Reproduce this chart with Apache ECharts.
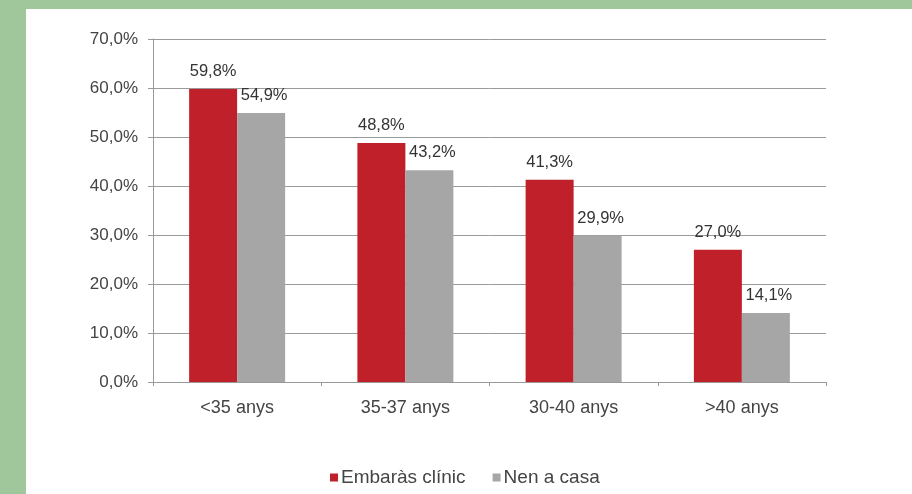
<!DOCTYPE html>
<html>
<head>
<meta charset="utf-8">
<script src="https://cdn.jsdelivr.net/npm/echarts@6/dist/echarts.min.js"></script>
<style>
html,body{margin:0;padding:0;background:#9fc79b;}
#c{width:912px;height:494px;}
</style>
</head>
<body>
<div id="c"></div>
<script>
const categories = ['<35 anys', '35-37 anys', '30-40 anys', '>40 anys'];
const embarasClinic = [59.8, 48.8, 41.3, 27.0];
const nenACasa = [54.9, 43.2, 29.9, 14.1];
const seriesNames = ['Embaràs clínic', 'Nen a casa'];

const fmt = v => v.toFixed(1).replace('.', ',') + '%';
const font = 'Liberation Sans, Arial, sans-serif';

const chart = echarts.init(document.getElementById('c'));
chart.setOption({
  backgroundColor: 'transparent',
  animation: false,
  textStyle: { fontFamily: font },
  graphic: [{
    type: 'rect', z: -10, silent: true,
    shape: { x: 26, y: 9, width: 886, height: 485 },
    style: { fill: '#ffffff' }
  }],
  grid: { left: 153, right: 86, top: 39, bottom: 112 },
  legend: {
    bottom: 2, left: 325,
    itemWidth: 8, itemHeight: 8, itemGap: 27,
    icon: 'rect',
    textStyle: { fontSize: 19, color: '#444', fontFamily: font, padding: [0, 0, 0, -2] },
    data: seriesNames
  },
  xAxis: {
    type: 'category',
    data: categories,
    axisLine: { lineStyle: { color: '#999', width: 1 } },
    axisTick: { show: true, length: 4, lineStyle: { color: '#999' } },
    axisLabel: { color: '#444', fontSize: 18, margin: 17, fontFamily: font }
  },
  yAxis: {
    type: 'value',
    min: 0, max: 70, interval: 10,
    axisLine: { show: true, lineStyle: { color: '#999' } },
    axisTick: { show: true, length: 5, lineStyle: { color: '#999' } },
    splitLine: { lineStyle: { color: '#9a9a9a', width: 1 } },
    axisLabel: { color: '#444', fontSize: 17, margin: 15, fontFamily: font, formatter: v => v.toFixed(1).replace('.', ',') + '%' }
  },
  series: [
    {
      name: seriesNames[0], type: 'bar', data: embarasClinic,
      barWidth: 48, barGap: '0%',
      itemStyle: { color: '#c0202a' },
      label: { show: true, position: 'top', distance: 9, color: '#333', fontSize: 16.5, fontFamily: font, formatter: p => fmt(p.value) }
    },
    {
      name: seriesNames[1], type: 'bar', data: nenACasa,
      barWidth: 48, barGap: '0%',
      itemStyle: { color: '#a6a6a6' },
      label: { show: true, position: 'top', distance: 9, offset: [3, 0], color: '#333', fontSize: 16.5, fontFamily: font, formatter: p => fmt(p.value) }
    }
  ]
});
</script>
</body>
</html>
